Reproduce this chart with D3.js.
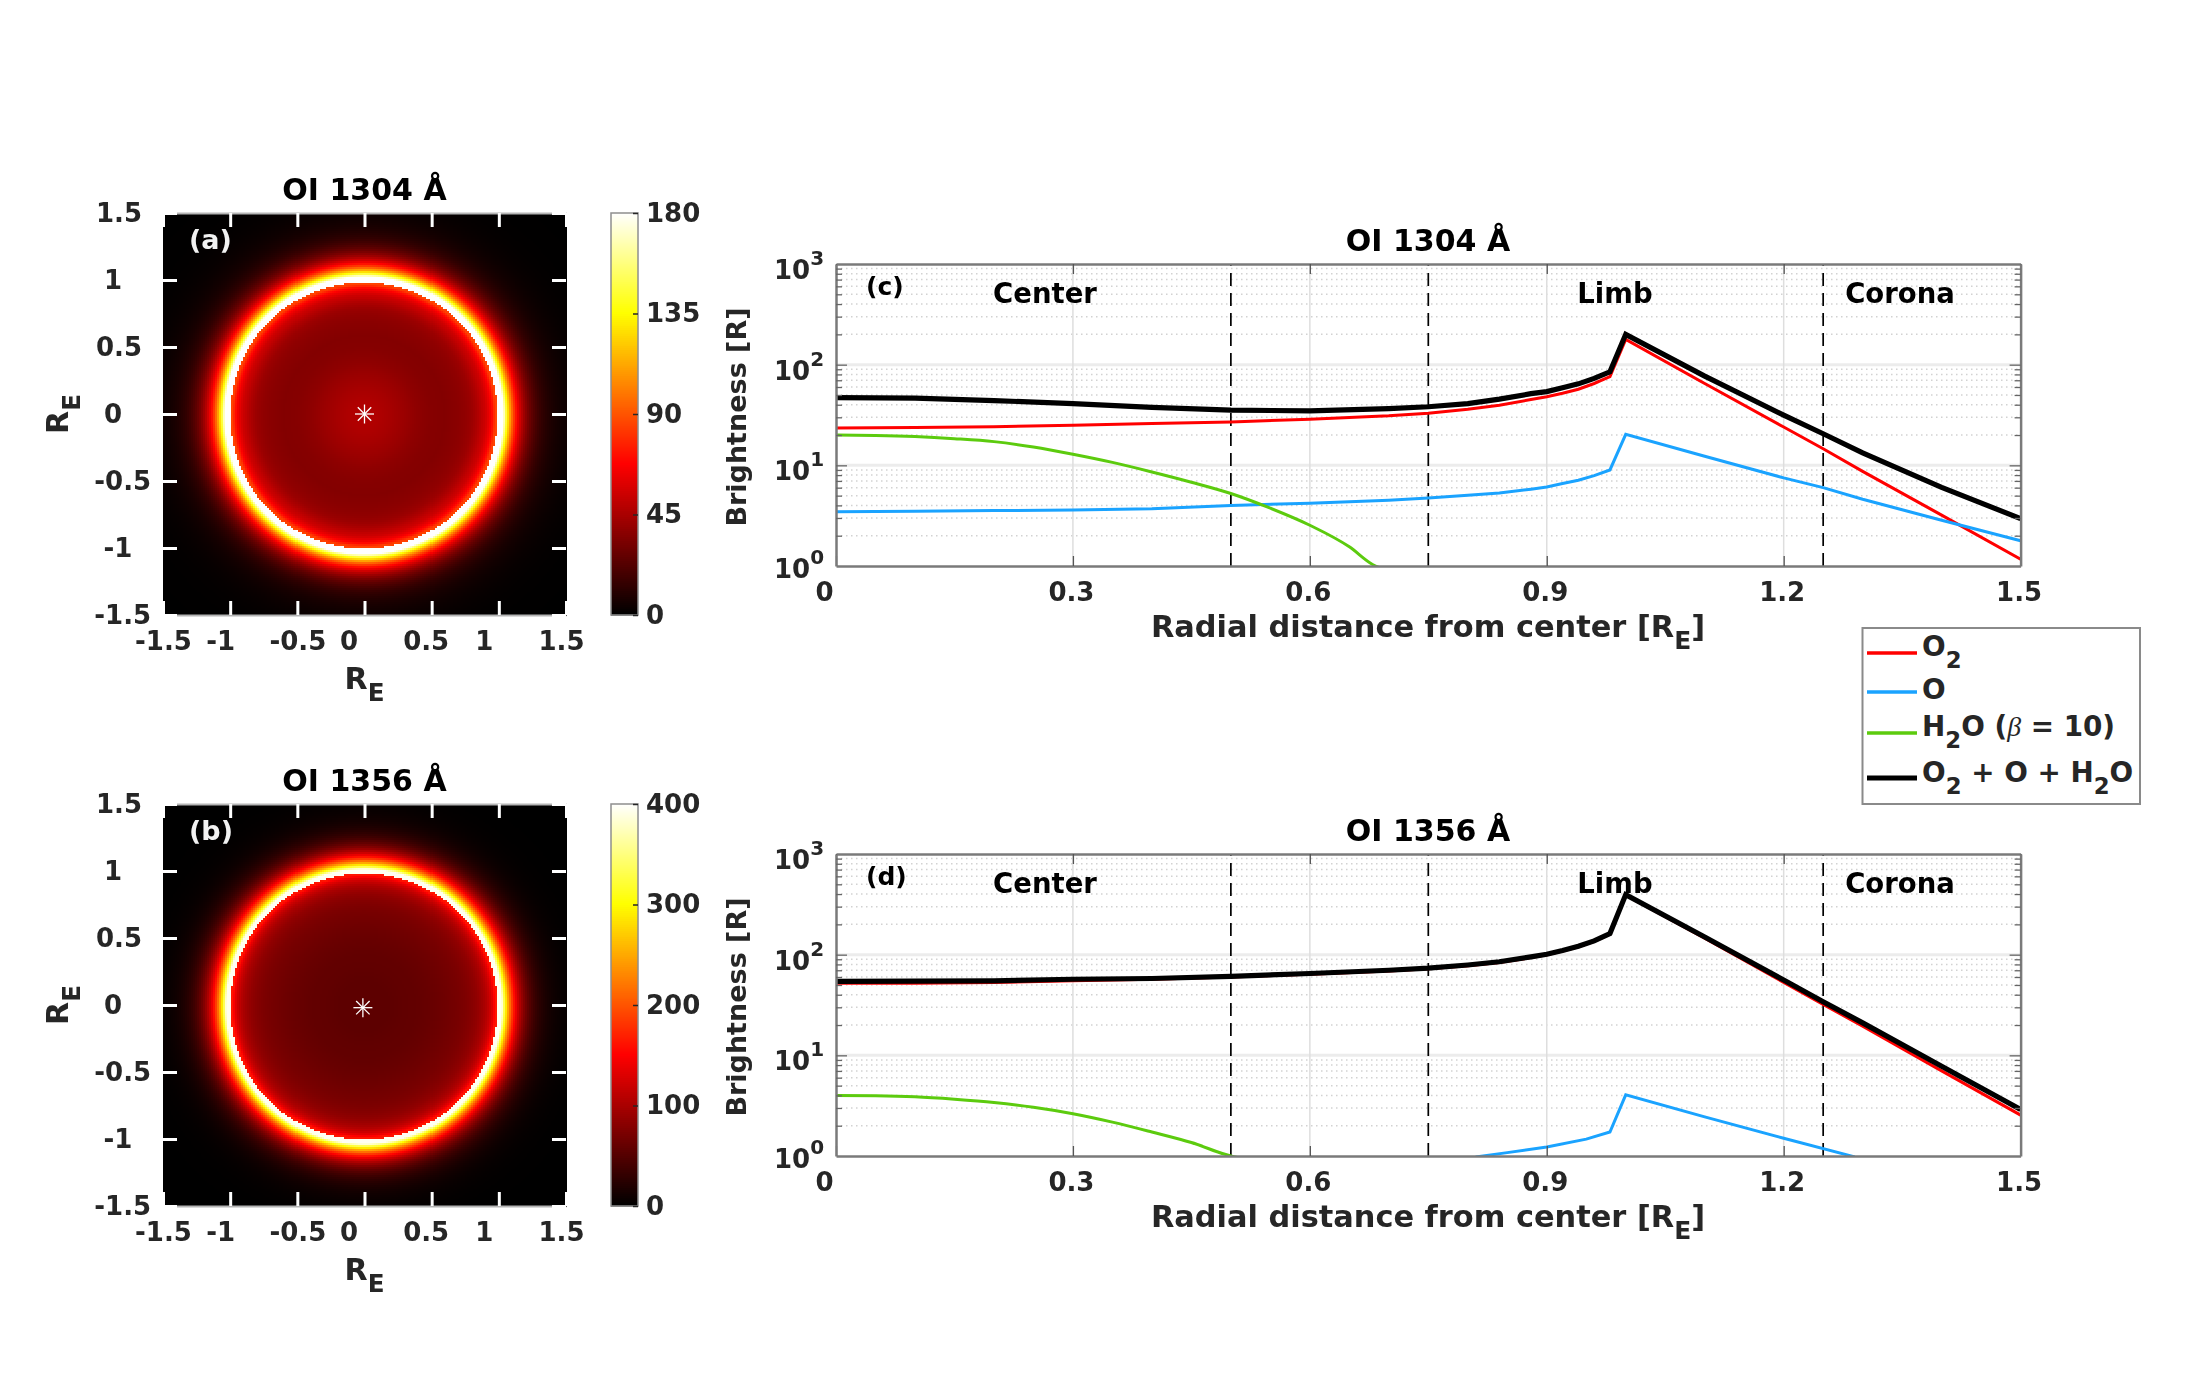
<!DOCTYPE html>
<html>
<head>
<meta charset="utf-8">
<script src="https://cdn.jsdelivr.net/npm/d3@7"></script>
<style>
  html, body { margin:0; padding:0; background:#fff; }
  #chart { position:relative; width:2200px; height:1389px; overflow:hidden; filter:blur(0.7px); }
  canvas, svg { position:absolute; left:0; top:0; }
  text { font-family:"DejaVu Sans", sans-serif; font-weight:bold; fill:#262626; }
</style>
</head>
<body>
<div id="chart"></div>
<script>
// radial positions shared by the O2, O and total curves
const radius = [0,0.1,0.2,0.3,0.4,0.5,0.6,0.7,0.75,0.8,0.84,0.88,0.9,0.92,0.94,0.96,0.98,1,1.1,1.2,1.25,1.3,1.4,1.5];

// OI 1304
const o2_1304 = [23.5,23.7,24.2,25,26,27,28.7,31,33,36,39.5,45,48,52,57,65,76,178,65,24,14.6,8.7,3.2,1.17];
const o_1304 = [3.45,3.5,3.55,3.6,3.7,4,4.2,4.5,4.75,5.05,5.3,5.8,6.1,6.6,7.1,7.9,9,20.3,12.3,7.5,6,4.6,2.85,1.78];
const total_1304 = [47,46.5,44,41,37.6,35.4,34.7,36.6,38.2,41,45.5,51.5,54,59,64.5,73,85,200,77,31.5,20.6,13.3,6.05,2.95];
const rH2o_1304 = [0,0.05,0.1,0.15,0.2,0.25,0.3,0.35,0.4,0.45,0.5,0.55,0.6,0.65,0.68,0.69];
const h2o_1304 = [20,19.8,19.3,18.4,17.2,15.2,12.9,10.7,8.6,6.8,5.25,3.75,2.54,1.55,1.03,0.95];

// OI 1356
const o2_1356 = [52,52,53,55,57,60,64,69,72.5,77.5,83.5,93.5,99.5,108.5,119.5,135.5,160,390,146,53,32,19.5,7,2.55];
const total_1356 = [54.4,54.5,55,57,58,61,65,70,73.5,79,85,95,101,110,121,137,162,395,150,56,34,21,7.8,2.9];
const rO_1356 = [0.81,0.85,0.9,0.95,0.98,1,1.1,1.2,1.29];
const o_1356 = [0.98,1.08,1.23,1.47,1.73,4.05,2.45,1.5,0.98];
const rH2o_1356 = [0,0.05,0.1,0.15,0.2,0.25,0.3,0.35,0.4,0.45,0.5,0.51];
const h2o_1356 = [4,3.97,3.87,3.66,3.4,3.05,2.63,2.17,1.73,1.36,1,0.96];

const mapTicks = [-1.5,-1,-0.5,0,0.5,1,1.5];
const radialTicks = [0,0.3,0.6,0.9,1.2,1.5];
const regionEdges = [0.5,0.75,1.25];
const decades = [1,10,100,1000];
const cbTicks1304 = [0,45,90,135,180];
const cbTicks1356 = [0,100,200,300,400];

// tick labels sit off their ticks in the original
const mapLabelShiftX = [0,-10,0,-16,-6,-15,-5];
const mapLabelShiftY = [3.7,-1,3.7,-6,0,-6,0];

const colors = {o2:'#ff0000', o:'#1aa3ff', h2o:'#5ccb0e', total:'#000000'};

const hot = d3.scaleLinear()
  .domain([0,0.375,0.75,1])
  .range(['#000000','#ff0000','#ffff00','#ffffff'])
  .clamp(true);

const root = d3.select('#chart');
const canvas = root.append('canvas').attr('width',2200).attr('height',1389);
const ctx = canvas.node().getContext('2d');
const svg = root.append('svg').attr('width',2200).attr('height',1389);

function subLabel(sel, parts){
  parts.forEach(p => {
    const t = sel.append('tspan').text(p.s);
    if(p.sub) t.attr('dy', 12).style('font-size','0.82em');
    if(p.back) t.attr('dy', -12);
    if(p.greek) t.style('font-family','"Liberation Serif"').style('font-style','italic').style('font-weight','normal');
  });
}

function renderMap(o){
  const x = d3.scaleLinear().domain([-1.5,1.5]).range([163,566]);
  const y = d3.scaleLinear().domain([-1.5,1.5]).range([o.top+402,o.top]);
  const profile = d3.scaleLinear().domain(radius).range(o.total.map(v => Math.log10(v)));

  // radial brightness on a grid: the map's ring is a bit wider and its
  // inner edge sharper than the line plot suggests
  const n = 200, step = 3/n;
  d3.range(n).forEach(i => {
    d3.range(n).forEach(j => {
      const cx = -1.5 + (i+0.5)*step, cy = -1.5 + (j+0.5)*step;
      const r = Math.sqrt(cx*cx+cy*cy);
      const rr = r < 0.995 ? Math.min(r,0.98) : Math.max(1, r-0.025);
      ctx.fillStyle = hot(Math.pow(10, profile(rr))/o.cmax);
      ctx.fillRect(Math.floor(x(-1.5+i*step)), Math.floor(y(-1.5+(j+1)*step)),
        Math.ceil(x(step)-x(0))+1, Math.ceil(y(0)-y(step))+1);
    });
  });

  const g = svg.append('g').attr('class','map');

  const axes = [
    {a:d3.axisBottom(x), t:`translate(0,${y(-1.5)})`, labels:true, vert:false},
    {a:d3.axisTop(x), t:`translate(0,${y(1.5)})`, labels:false, vert:false},
    {a:d3.axisLeft(y), t:`translate(${x(-1.5)},0)`, labels:true, vert:true},
    {a:d3.axisRight(y), t:`translate(${x(1.5)},0)`, labels:false, vert:true}
  ];
  axes.forEach(d => {
    const ag = g.append('g')
      .attr('transform', d.t)
      .call(d.a.tickValues(mapTicks).tickSizeInner(-14).tickSizeOuter(0).tickPadding(17));
    ag.select('.domain').attr('stroke', d.vert ? 'none' : '#b5b5b5').attr('stroke-width', 2);
    ag.selectAll('.tick line').attr('stroke','#fff').attr('stroke-width',3);
    ag.selectAll('.tick text')
      .style('font-size','26px')
      .style('fill','#262626')
      .text(v => String(v))
      .each(function(v,i){
        if(!d.labels) d3.select(this).remove();
        else if(d.vert) d3.select(this).attr('x', -44 + mapLabelShiftY[i]).attr('text-anchor','middle');
        else d3.select(this).attr('dx', mapLabelShiftX[i]);
      });
  });

  // white star at the disc centre
  const star = g.append('g')
    .attr('transform', `translate(${x(o.star[0])},${y(o.star[1])})`)
    .attr('stroke','#fff')
    .attr('stroke-width',1.3);
  [0,45,90,135].forEach(a => star.append('line')
    .attr('x1',-9.5).attr('x2',9.5).attr('transform',`rotate(${a})`));

  g.append('text').text(o.title)
    .attr('x',x(0)).attr('y',o.top-13).attr('text-anchor','middle')
    .style('font-size','30px').style('fill','#000');
  g.append('text').text(o.tag)
    .attr('x',189).attr('y',o.top+36)
    .style('font-size','27px').style('fill','#f2f2f2');

  const xl = g.append('text').attr('x',x(0)).attr('y',o.top+476).attr('text-anchor','middle')
    .style('font-size','30px');
  subLabel(xl, [{s:'R'},{s:'E',sub:true}]);
  const yl = g.append('text').attr('text-anchor','middle')
    .attr('transform',`translate(68,${y(0)}) rotate(-90)`)
    .style('font-size','30px');
  subLabel(yl, [{s:'R'},{s:'E',sub:true}]);

  // colour bar
  const cb = d3.scaleLinear().domain([0,o.cmax]).range([o.top+402,o.top]);
  const cbg = g.append('g');
  cbg.selectAll('rect').data(d3.range(0,o.cmax,o.cmax/200)).enter().append('rect')
    .attr('x',611).attr('width',27)
    .attr('y',d => cb(d+o.cmax/200)-0.5)
    .attr('height',d => cb(d)-cb(d+o.cmax/200)+1)
    .attr('fill',d => hot(d/o.cmax));
  cbg.append('rect')
    .attr('x',611).attr('y',o.top).attr('width',27).attr('height',402)
    .attr('fill','none').attr('stroke','#8f8f8f').attr('stroke-width',1.5);
  const cax = cbg.append('g').attr('transform','translate(638,0)')
    .call(d3.axisRight(cb).tickValues(o.cbTicks).tickSizeInner(-5).tickSizeOuter(0).tickPadding(8));
  cax.select('.domain').attr('stroke','none');
  cax.selectAll('.tick line').attr('stroke','#262626').attr('stroke-width',1.5);
  cax.selectAll('.tick text').style('font-size','26px').style('fill','#262626');
}

function renderProfile(o){
  const x = d3.scaleLinear().domain([0,1.5]).range([836,2020.6]);
  const y = d3.scaleLog().domain([1,1000]).range([o.top+302,o.top]);
  const g = svg.append('g').attr('class','profile');
  const minor = decades.slice(0,3).flatMap(d => d3.range(2,10).map(k => d*k));

  g.append('rect')
    .attr('x',x(0)).attr('y',y(1000)).attr('width',x(1.5)-x(0)).attr('height',y(1)-y(1000))
    .attr('fill','#fff');

  g.selectAll('.minor').data(minor).enter().append('line').attr('class','minor')
    .attr('x1',x(0)).attr('x2',x(1.5)).attr('y1',d => y(d)).attr('y2',d => y(d))
    .attr('stroke','#d2d2d2').attr('stroke-width',1.5).attr('stroke-dasharray','1.5 3.5');
  g.selectAll('.major').data([10,100]).enter().append('line').attr('class','major')
    .attr('x1',x(0)).attr('x2',x(1.5)).attr('y1',d => y(d)).attr('y2',d => y(d))
    .attr('stroke','#ececec').attr('stroke-width',3);
  g.selectAll('.vgrid').data(radialTicks.slice(1,5)).enter().append('line').attr('class','vgrid')
    .attr('x1',d => x(d)).attr('x2',d => x(d)).attr('y1',y(1)).attr('y2',y(1000))
    .attr('stroke','#dedede').attr('stroke-width',1.5);

  g.selectAll('.edge').data(regionEdges).enter().append('line').attr('class','edge')
    .attr('x1',d => x(d)).attr('x2',d => x(d)).attr('y1',y(1)).attr('y2',y(1000))
    .attr('stroke','#000').attr('stroke-width',1.7).attr('stroke-dasharray','13 7');

  // curves, clipped to the axes box
  const clipId = 'clip-' + o.tag.replace(/\W/g,'');
  g.append('clipPath').attr('id',clipId).append('rect')
    .attr('x',x(0)).attr('y',y(1000)).attr('width',x(1.5)-x(0)).attr('height',y(1)-y(1000));
  const line = d3.line().x(d => x(d[0])).y(d => y(d[1]));
  const plot = g.append('g').attr('clip-path',`url(#${clipId})`);
  o.series.forEach(s => {
    plot.append('path')
      .datum(d3.zip(s.r, s.v))
      .attr('d', line.curve(s.smooth ? d3.curveMonotoneX : d3.curveLinear))
      .attr('fill','none')
      .attr('stroke',s.color)
      .attr('stroke-width',s.w)
      .attr('stroke-linejoin','miter');
  });

  // axes box and ticks
  const xb = g.append('g').attr('transform',`translate(0,${y(1)})`)
    .call(d3.axisBottom(x).tickValues(radialTicks).tickSizeInner(-10).tickSizeOuter(0).tickPadding(17).tickFormat(d3.format('')));
  const xt = g.append('g').attr('transform',`translate(0,${y(1000)})`)
    .call(d3.axisTop(x).tickValues(radialTicks).tickSizeInner(-10).tickSizeOuter(0).tickFormat(''));
  [xb,xt].forEach(a => {
    a.select('.domain').attr('stroke','#7a7a7a').attr('stroke-width',2.5);
    a.selectAll('.tick line').attr('stroke','#555').attr('stroke-width',1.3);
  });
  xb.selectAll('.tick text').style('font-size','26px').style('fill','#262626')
    .attr('dx',(d,i) => i === 0 ? -12 : -2);

  [{a:d3.axisLeft(y), at:x(0)},{a:d3.axisRight(y), at:x(1.5)}].forEach(d => {
    const ag = g.append('g').attr('transform',`translate(${d.at},0)`)
      .call(d.a.tickValues(minor).tickSizeInner(-6).tickSizeOuter(0).tickFormat(''));
    ag.select('.domain').attr('stroke','#7a7a7a').attr('stroke-width',2.5);
    ag.selectAll('.tick line').attr('stroke','#666').attr('stroke-width',1.3);
    const mj = g.append('g').attr('transform',`translate(${d.at},0)`)
      .call(d.a.tickValues([10,100]).tickSizeInner(-11).tickSizeOuter(0).tickFormat(''));
    mj.select('.domain').remove();
    mj.selectAll('.tick line').attr('stroke','#666').attr('stroke-width',1.3);
  });

  // decade labels with superscript
  const dl = g.selectAll('.decade').data(decades).enter().append('text').attr('class','decade')
    .attr('x',774).attr('y',d => y(d) + (d === 1 ? 12 : 15))
    .style('font-size','26px');
  dl.append('tspan').text('10');
  dl.append('tspan').text(d => Math.log10(d)).attr('dy',-14).style('font-size','20px');

  g.append('text').text(o.title)
    .attr('x',1428).attr('y',o.top-13).attr('text-anchor','middle')
    .style('font-size','30px').style('fill','#000');
  g.append('text').text(o.tag)
    .attr('x',866).attr('y',o.top+31)
    .style('font-size','25px').style('fill','#000');
  [['Center',1045],['Limb',1615],['Corona',1900]].forEach(d => {
    g.append('text').text(d[0])
      .attr('x',d[1]).attr('y',o.top+39).attr('text-anchor','middle')
      .style('font-size','27.5px').style('fill','#000');
  });

  const xl = g.append('text').attr('x',1428).attr('y',o.top+373).attr('text-anchor','middle')
    .style('font-size','30.4px');
  subLabel(xl, [{s:'Radial distance from center [R'},{s:'E',sub:true},{s:']',back:true}]);

  g.append('text').text('Brightness [R]')
    .attr('text-anchor','middle')
    .attr('transform',`translate(746,${o.top+153}) rotate(-90)`)
    .style('font-size','27px');
}

function renderLegend(){
  const g = svg.append('g').attr('class','legend');
  g.append('rect').attr('x',1862.5).attr('y',628).attr('width',277.5).attr('height',176)
    .attr('fill','#fff').attr('stroke','#8a8a8a').attr('stroke-width',2);
  const rows = [
    {y:653, dy:3, c:colors.o2, w:3.6, parts:[{s:'O'},{s:'2',sub:true}]},
    {y:692, dy:7, c:colors.o, w:3.6, parts:[{s:'O'}]},
    {y:733, dy:3, c:colors.h2o, w:3.6, parts:[{s:'H'},{s:'2',sub:true},{s:'O (',back:true},{s:'β',greek:true},{s:' = 10)'}]},
    {y:778, dy:4, c:colors.total, w:5, parts:[{s:'O'},{s:'2',sub:true},{s:' + O + H',back:true},{s:'2',sub:true},{s:'O',back:true}]}
  ];
  rows.forEach(r => {
    g.append('line').attr('x1',1867).attr('x2',1917).attr('y1',r.y).attr('y2',r.y)
      .attr('stroke',r.c).attr('stroke-width',r.w);
    const t = g.append('text').attr('x',1922).attr('y',r.y+r.dy).style('font-size','27.8px');
    subLabel(t, r.parts);
  });
}

renderMap({top:213, title:'OI 1304 Å', tag:'(a)', total:total_1304, cmax:180, cbTicks:cbTicks1304, star:[0,0]});
renderMap({top:804, title:'OI 1356 Å', tag:'(b)', total:total_1356, cmax:400, cbTicks:cbTicks1356, star:[-0.012,-0.02]});

renderProfile({top:264, title:'OI 1304 Å', tag:'(c)', series:[
  {r:radius, v:o2_1304, color:colors.o2, w:3},
  {r:radius, v:o_1304, color:colors.o, w:3},
  {r:rH2o_1304, v:h2o_1304, color:colors.h2o, w:3, smooth:true},
  {r:radius, v:total_1304, color:colors.total, w:5.2}
]});
renderProfile({top:854, title:'OI 1356 Å', tag:'(d)', series:[
  {r:radius, v:o2_1356, color:colors.o2, w:3},
  {r:rO_1356, v:o_1356, color:colors.o, w:3},
  {r:rH2o_1356, v:h2o_1356, color:colors.h2o, w:3, smooth:true},
  {r:radius, v:total_1356, color:colors.total, w:5.2}
]});
renderLegend();
</script>
</body>
</html>
